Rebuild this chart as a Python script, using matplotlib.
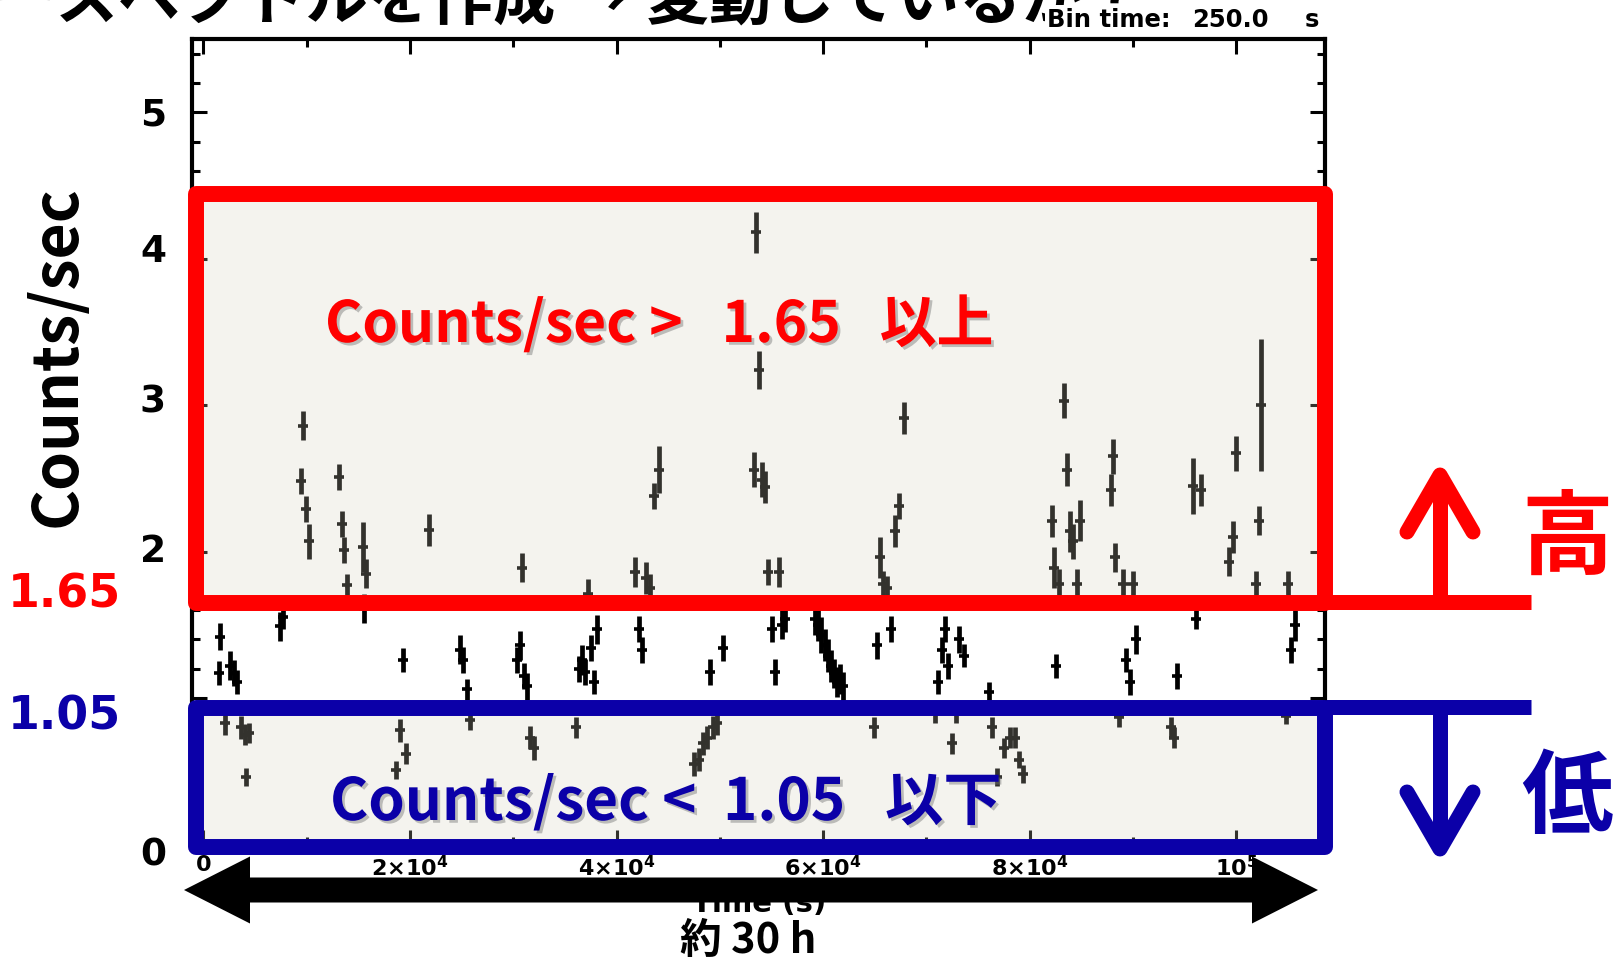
import matplotlib
matplotlib.use("Agg")
import matplotlib.pyplot as plt
import matplotlib.patheffects as pe
from matplotlib.transforms import Affine2D
from matplotlib.patches import Rectangle, Polygon
from matplotlib.lines import Line2D
from matplotlib.ticker import MultipleLocator, FuncFormatter

# ---------------- light curve (250 s bins) ----------------
time_s = [
    1530, 1630, 2130, 2530, 2930, 3230, 3630, 4030, 4130, 4430,
    7430, 7730,
    9430, 9630, 9930, 10230,
    13130, 13430, 13630, 13880, 15430, 15530, 15730,
    18630, 19030, 19330, 19630,
    21830,
    24830, 25130, 25530, 25830,
    30330, 30630, 30830, 31030, 31330, 31630, 32030,
    36030, 36330, 36630, 36930, 37230, 37530, 37830, 38130,
    41830, 42130, 42430, 42830, 43230, 43630, 44130,
    47530, 47930, 48330, 48730, 49030, 49330, 49730, 50330,
    53330, 53530, 53830, 54030, 54330, 54630, 55030, 55330, 55730, 56030, 56330,
    59230, 59530, 59830, 60130, 60430, 60730, 61030, 61330, 61630, 61930,
    64930, 65230, 65530, 65830, 66130, 66530, 66930, 67330, 67830,
    70830, 71130, 71530, 71830, 72130, 72430, 72830, 73130, 73630,
    76030, 76330, 76830, 77530, 78130, 78530, 78930, 79330,
    82130, 82330, 82530, 82830, 83330, 83630, 83930, 84230, 84530, 84830,
    87830, 88030, 88230, 88630, 89030, 89330, 89730, 90030, 90330,
    93630, 93930, 94230, 95830, 96130, 96530,
    99330, 99630, 99930, 101930, 102230, 102430,
    104830, 105030, 105330, 105630,
]
rate = [
    1.17, 1.42, 0.83, 1.22, 1.17, 1.11, 0.80, 0.75, 0.46, 0.76,
    1.49, 1.55,
    2.48, 2.86, 2.29, 2.07,
    2.51, 2.19, 2.01, 1.77, 2.03, 1.61, 1.85,
    0.51, 0.78, 1.26, 0.62,
    2.15,
    1.33, 1.26, 1.06, 0.85,
    1.26, 1.36, 1.89, 1.15, 1.08, 0.73, 0.66,
    0.80, 1.20, 1.26, 1.18, 1.71, 1.34, 1.11, 1.47,
    1.86, 1.47, 1.33, 1.82, 1.75, 2.38, 2.56,
    0.55, 0.58, 0.69, 0.73, 1.18, 0.80, 0.83, 1.34,
    2.56, 4.18, 3.24, 2.49, 2.44, 1.86, 1.47, 1.18, 1.86, 1.50, 1.54,
    1.54, 1.50, 1.43, 1.36, 1.29, 1.22, 1.17, 1.11, 1.13, 1.08,
    0.80, 1.36, 1.96, 1.78, 1.75, 1.47, 2.14, 2.31, 2.91,
    0.90, 1.11, 1.33, 1.47, 1.22, 0.69, 0.90, 1.40, 1.29,
    1.04, 0.80, 0.46, 0.66, 0.73, 0.73, 0.58, 0.48,
    2.21, 1.89, 1.22, 1.78, 3.03, 2.56, 2.14, 2.07, 1.78, 2.21,
    2.42, 2.65, 1.96, 0.87, 1.78, 1.26, 1.11, 1.78, 1.40,
    0.80, 0.73, 1.15, 2.45, 1.54, 2.42,
    1.93, 2.10, 2.67, 1.78, 2.21, 3.00,
    0.88, 1.78, 1.33, 1.50,
]
rate_err = [
    0.08, 0.09, 0.08, 0.10, 0.09, 0.08, 0.08, 0.07, 0.06, 0.07,
    0.10, 0.08,
    0.09, 0.10, 0.09, 0.12,
    0.09, 0.09, 0.09, 0.08, 0.17, 0.10, 0.10,
    0.06, 0.08, 0.08, 0.07,
    0.11,
    0.10, 0.09, 0.07, 0.07,
    0.09, 0.10, 0.10, 0.09, 0.09, 0.08, 0.08,
    0.07, 0.09, 0.10, 0.09, 0.10, 0.09, 0.08, 0.10,
    0.10, 0.09, 0.09, 0.11, 0.10, 0.09, 0.16,
    0.08, 0.08, 0.08, 0.08, 0.09, 0.08, 0.08, 0.09,
    0.12, 0.14, 0.13, 0.12, 0.11, 0.09, 0.09, 0.09, 0.10, 0.10, 0.09,
    0.11, 0.11, 0.12, 0.11, 0.11, 0.11, 0.10, 0.10, 0.10, 0.10,
    0.07, 0.09, 0.14, 0.09, 0.08, 0.09, 0.11, 0.09, 0.11,
    0.07, 0.08, 0.09, 0.09, 0.09, 0.07, 0.07, 0.09, 0.08,
    0.07, 0.07, 0.06, 0.07, 0.07, 0.07, 0.06, 0.06,
    0.11, 0.14, 0.08, 0.10, 0.12, 0.11, 0.14, 0.12, 0.10, 0.14,
    0.11, 0.12, 0.10, 0.07, 0.10, 0.08, 0.09, 0.09, 0.10,
    0.07, 0.07, 0.09, 0.19, 0.07, 0.11,
    0.10, 0.11, 0.12, 0.09, 0.10, 0.45,
    0.06, 0.09, 0.09, 0.11,
]

BIN_TIME = 250.0
HIGH_CUT = 1.65          # high-state threshold (counts/sec)
LOW_CUT = 1.05           # low-state threshold (counts/sec)
HIGH_BOX_TOP = 4.44
LOW_BOX = (-0.014, 0.935)
BOX_X = (-740, 108620)

y_tick_values = [5, 4, 3, 2, 0]

TITLE = "パワースペクトルを作成 → 変動しているか？"
RED = "#ff0000"
BLUE = "#0b00a8"
JP = ["Noto Sans CJK JP", "DejaVu Sans"]

W, H = 1621, 962
fig = plt.figure(figsize=(W / 100, H / 100), dpi=100)
fig.patch.set_facecolor("white")
# pixel coordinates with origin in the top-left corner
px = Affine2D().scale(1 / W, -1 / H).translate(0, 1) + fig.transFigure

ax = fig.add_axes([192.3 / W, 1 - 845.5 / H, (1325 - 192.3) / W, (845.5 - 40) / H])
ax.set_xlim(-1075, 108580)
ax.set_ylim(0, 5.5)

ax.errorbar(time_s, rate, yerr=rate_err, xerr=BIN_TIME / 2, fmt="none",
            ecolor="black", elinewidth=3.4, capsize=0, zorder=2)
ax.plot(time_s, rate, ls="none", marker="_", ms=7, mew=2.6, color="black", zorder=2)

for s in ax.spines.values():
    s.set_linewidth(3)
ax.xaxis.set_major_locator(MultipleLocator(2e4))
ax.xaxis.set_minor_locator(MultipleLocator(1e4))
ax.yaxis.set_major_locator(MultipleLocator(1))
ax.yaxis.set_minor_locator(MultipleLocator(0.2))
ax.tick_params(which="both", direction="in", top=True, right=True, width=2.2,
               labelleft=False, labelsize=16, pad=7)
ax.tick_params(which="major", length=10.5)
ax.tick_params(which="minor", length=6)


def xfmt(v, _):
    if abs(v) < 1:
        return r"$\mathbf{0}$"
    if abs(v - 1e5) < 1:
        return r"$\mathbf{10^5}$"
    return r"$\mathbf{%d{\times}10^4}$" % round(v / 1e4)


ax.xaxis.set_major_formatter(FuncFormatter(xfmt))
ax.set_xlabel("Time (s)", fontsize=21, fontweight="bold", labelpad=7)

# state boxes
fill_rgb = (210 / 255, 206 / 255, 189 / 255)
for (y0, y1, col) in [(HIGH_CUT, HIGH_BOX_TOP, RED), (LOW_BOX[0], LOW_BOX[1], BLUE)]:
    ax.add_patch(Rectangle((BOX_X[0], y0), BOX_X[1] - BOX_X[0], y1 - y0,
                           facecolor=fill_rgb, alpha=0.243, edgecolor="none",
                           clip_on=False, zorder=3))
    ax.add_patch(Rectangle((BOX_X[0], y0), BOX_X[1] - BOX_X[0], y1 - y0,
                           facecolor="none", edgecolor=col, lw=11.5,
                           joinstyle="round", clip_on=False, zorder=4))


# threshold lines and arrows on the right
def seg(xs, ys, col, cap="butt", join="miter"):
    fig.add_artist(Line2D(xs, ys, transform=px, color=col, lw=10.8,
                          solid_capstyle=cap, solid_joinstyle=join, zorder=5))


seg([1326, 1531], [603, 603], RED)
seg([1440, 1440], [603, 480], RED)
seg([1407, 1440, 1473], [533, 476, 533], RED, cap="round", join="round")
seg([1326, 1531], [708, 708], BLUE)
seg([1440, 1440], [708, 845], BLUE)
seg([1407, 1440, 1473], [793, 850, 793], BLUE, cap="round", join="round")

fig.text(1567, 540, "高", transform=px, color=RED, fontsize=66, fontweight="bold",
         family=JP, ha="center", va="center")
fig.text(1567, 799, "低", transform=px, color=BLUE, fontsize=66, fontweight="bold",
         family=JP, ha="center", va="center")

# threshold values and y tick overlay labels
fig.text(64, 595, f"{HIGH_CUT:.2f}", transform=px, color=RED, fontsize=33,
         fontweight="bold", family="DejaVu Sans", ha="center", va="center")
fig.text(64, 717, f"{LOW_CUT:.2f}", transform=px, color=BLUE, fontsize=33,
         fontweight="bold", family="DejaVu Sans", ha="center", va="center")
for v, ypix in zip(y_tick_values, [116, 252, 403, 552, 856]):
    fig.text(153, ypix, str(v), transform=px, fontsize=27, fontweight="bold",
             family="DejaVu Sans", ha="center", va="center")

fig.text(57, 356, "Counts/sec", transform=px, rotation=90, fontsize=45,
         fontweight="bold", family=JP, ha="center", va="center")

shadow = [pe.withSimplePatchShadow(offset=(2, -2), shadow_rgbFace="#777777", alpha=0.45)]
fig.text(659, 326, f"Counts/sec >   {HIGH_CUT:.2f}   以上", transform=px, color=RED,
         fontsize=41, fontweight="bold", family=JP, ha="center", va="center",
         path_effects=shadow, zorder=6)
fig.text(666, 804, f"Counts/sec <  {LOW_CUT:.2f}   以下", transform=px, color=BLUE,
         fontsize=42, fontweight="bold", family=JP, ha="center", va="center",
         path_effects=shadow, zorder=6)

# duration arrow
xl, xr, yc = 184, 1318, 891
hl, hw, sw = 66, 33.5, 12.5
verts = [(xl, yc), (xl + hl, yc - hw), (xl + hl, yc - sw), (xr - hl, yc - sw),
         (xr - hl, yc - hw), (xr, yc), (xr - hl, yc + hw), (xr - hl, yc + sw),
         (xl + hl, yc + sw), (xl + hl, yc + hw)]
fig.add_artist(Polygon(verts, closed=True, transform=px, facecolor="black",
                       edgecolor="none", zorder=7))
fig.text(748, 941, "約 30 h", transform=px, fontsize=30, fontweight="bold",
         family=JP, ha="center", va="center")

# header
fig.text(1146, 33, TITLE, transform=px, fontsize=45, fontweight="bold",
         family=JP, ha="right", va="bottom", zorder=1)
hdr = dict(transform=px, fontsize=17.5, fontweight="bold", ha="left", va="center",
           family="DejaVu Sans", zorder=2,
           bbox=dict(facecolor="white", edgecolor="none", pad=1.5))
fig.text(1047, 20, "Bin time:", **hdr)
fig.text(1192, 20, f"{BIN_TIME:.1f}", **hdr)
fig.text(1305, 20, "s", **hdr)

fig.savefig("out.png", dpi=100)
